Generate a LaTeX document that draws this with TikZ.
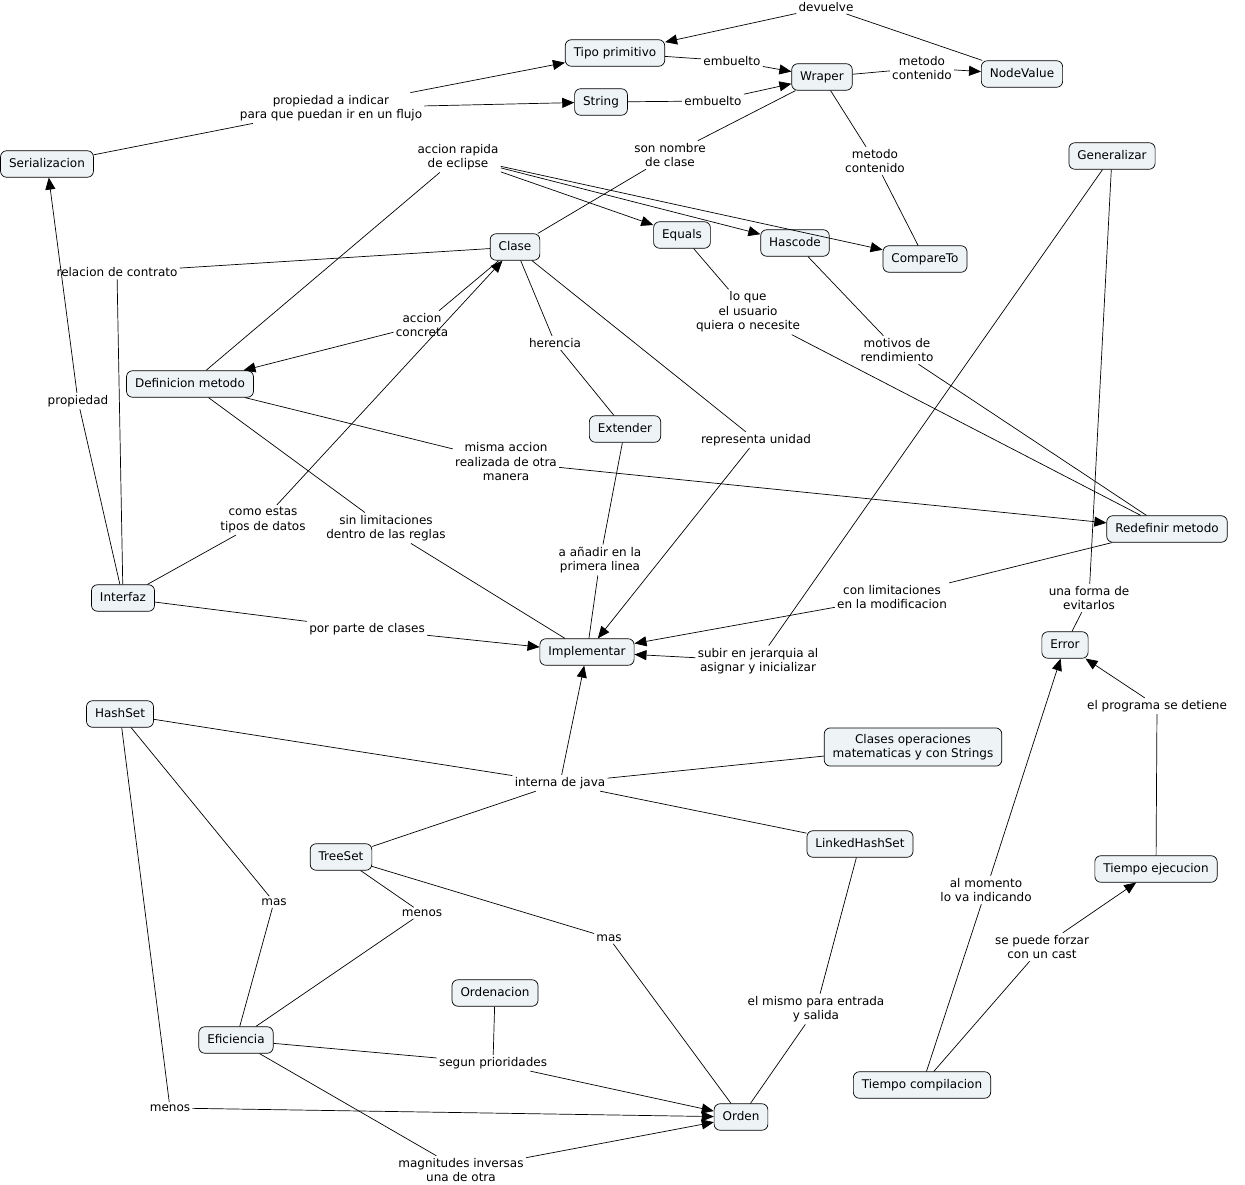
\documentclass[tikz,border=0pt]{standalone}
\usepackage{fontspec}
\setmainfont{DejaVu Sans}
\usetikzlibrary{arrows.meta}

\definecolor{conceptfill}{RGB}{238,243,246}

\begin{document}
\begin{tikzpicture}[x=1pt,y=-1pt,line width=0.7pt,
			every node/.style={font=\fontsize{12}{14.5}\selectfont,align=center},
			concept box/.style={draw,fill=conceptfill,rounded corners=6pt,inner xsep=8.5pt},
			concept node/.style={concept box,inner ysep=7.5pt,text height=9pt,text depth=2.5pt},
			link node/.style={inner sep=2pt},
			arrow line/.style={-{Triangle[length=12pt,width=10pt]}}
			]
			
			\useasboundingbox (0,0) rectangle (1245,1185);
			
			% conceptos
			\node[concept node] (tipo) at (615,53) {Tipo primitivo};
			\node[concept node] (wraper) at (822,77) {Wraper};
			\node[concept node] (nodevalue) at (1022,74) {NodeValue};
			\node[concept node] (string) at (601,102) {String};
			\node[concept node] (serial) at (47,164) {Serializacion};
			\node[concept node] (generalizar) at (1112,156) {Generalizar};
			\node[concept node] (clase) at (515,247) {Clase};
			\node[concept node] (equals) at (682,235) {Equals};
			\node[concept node] (hascode) at (795,243) {Hascode};
			\node[concept node] (compare) at (925,259) {CompareTo};
			\node[concept node] (defmet) at (190,384) {Definicion metodo};
			\node[concept node] (extender) at (625,429) {Extender};
			\node[concept node] (redef) at (1167,529) {Redefinir metodo};
			\node[concept node] (interfaz) at (123,598) {Interfaz};
			\node[concept node] (implementar) at (587,652) {Implementar};
			\node[concept node] (error) at (1065,645) {Error};
			\node[concept node] (hashset) at (120,714) {HashSet};
			\node[concept box,inner ysep=6pt] (clasesops) at (913,747) {Clases operaciones\\matematicas y con Strings};
			\node[concept node] (linked) at (860,844) {LinkedHashSet};
			\node[concept node] (treeset) at (341,857) {TreeSet};
			\node[concept node] (tejec) at (1156,869) {Tiempo ejecucion};
			\node[concept node] (ordenacion) at (495,993) {Ordenacion};
			\node[concept node] (eficiencia) at (236,1040) {Eficiencia};
			\node[concept node] (tcomp) at (922,1085) {Tiempo compilacion};
			\node[concept node] (orden) at (741,1117) {Orden};
			
			% frases de enlace
			\node[link node] (devuelve) at (826,7) {devuelve};
			\node[link node] (embA) at (732,61) {embuelto};
			\node[link node] (embB) at (713,101) {embuelto};
			\node[link node] (metcontA) at (922,68) {metodo\\contenido};
			\node[link node] (propind) at (331,108) {propiedad a indicar\\para que puedan ir en un flujo};
			\node[link node] (rapida) at (458,157) {accion rapida\\de eclipse};
			\node[link node] (sonnombre) at (670,155) {son nombre\\de clase};
			\node[link node] (metcontB) at (875,161) {metodo\\contenido};
			\node[link node] (contrato) at (117,272) {relacion de contrato};
			\node[link node] (loque) at (748,312) {lo que\\el usuario\\quiera o necesite};
			\node[link node] (concreta) at (422,325) {accion\\concreta};
			\node[link node] (herencia) at (555,343) {herencia};
			\node[link node] (motivos) at (897,350) {motivos de\\rendimiento};
			\node[link node] (propiedad) at (78,401) {propiedad};
			\node[link node] (unidad) at (756,440) {representa unidad};
			\node[link node] (misma) at (506,462) {misma accion\\realizada de otra\\manera};
			\node[link node] (comoestas) at (263,520) {como estas\\tipos de datos};
			\node[link node] (sinlim) at (386,528) {sin limitaciones\\dentro de las reglas};
			\node[link node] (anadir) at (600,560) {a añadir en la\\primera linea};
			\node[link node] (conlim) at (892,597) {con limitaciones\\en la modificacion};
			\node[link node] (evitar) at (1089,598) {una forma de\\evitarlos};
			\node[link node] (porparte) at (367,629) {por parte de clases};
			\node[link node] (subir) at (758,661) {subir en jerarquia al\\asignar y inicializar};
			\node[link node] (detiene) at (1157,706) {el programa se detiene};
			\node[link node] (interna) at (560,783) {interna de java};
			\node[link node] (momento) at (986,890) {al momento\\lo va indicando};
			\node[link node] (masA) at (274,902) {mas};
			\node[link node] (menosA) at (422,913) {menos};
			\node[link node] (masB) at (609,938) {mas};
			\node[link node] (forzar) at (1042,947) {se puede forzar\\con un cast};
			\node[link node] (mismo) at (816,1009) {el mismo para entrada\\y salida};
			\node[link node] (segun) at (493,1063) {segun prioridades};
			\node[link node] (menosB) at (170,1108) {menos};
			\node[link node] (magnitudes) at (461,1170) {magnitudes inversas\\una de otra};
			
			% lineas sin flecha
			\foreach \a/\b in {nodevalue/devuelve, tipo/embA, string/embB, wraper/metcontA,
				serial/propind, wraper/sonnombre, sonnombre/clase, wraper/metcontB, metcontB/compare,
				defmet/rapida, clase/contrato, contrato/interfaz, interfaz/propiedad, clase/concreta,
				interfaz/comoestas, clase/herencia, herencia/extender, clase/unidad, equals/loque,
				loque/redef, hascode/motivos, motivos/redef, defmet/misma, defmet/sinlim,
				sinlim/implementar, extender/anadir, anadir/implementar, redef/conlim,
				interfaz/porparte, generalizar/subir, generalizar/evitar, evitar/error,
				tejec/detiene, tcomp/momento, tcomp/forzar, hashset/interna, clasesops/interna,
				treeset/interna, linked/interna, hashset/masA, masA/eficiencia, treeset/menosA,
				menosA/eficiencia, treeset/masB, masB/orden, linked/mismo, mismo/orden,
				eficiencia/segun, ordenacion/segun, hashset/menosB, eficiencia/magnitudes}
				\draw (\a) -- (\b);
			
			% lineas con flecha
			\foreach \a/\b in {devuelve/tipo, embA/wraper, embB/wraper, metcontA/nodevalue,
				propind/tipo, propind/string, rapida/equals, rapida/hascode, rapida/compare,
				propiedad/serial, concreta/defmet, comoestas/clase, unidad/implementar,
				misma/redef, conlim/implementar, porparte/implementar, subir/implementar,
				detiene/error, momento/error, forzar/tejec, interna/implementar,
				segun/orden, menosB/orden, magnitudes/orden}
				\draw[arrow line] (\a) -- (\b);
			
		\end{tikzpicture}
\end{document}
